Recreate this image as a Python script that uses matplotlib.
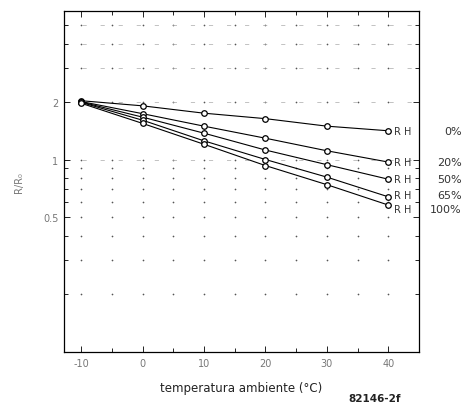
import numpy as np
import matplotlib
matplotlib.use('Agg')
import matplotlib.pyplot as plt
from matplotlib.ticker import FixedLocator, NullFormatter

# data
temp = [-10, 0, 10, 20, 30, 40]
rh_labels = ['0%', '20%', '50%', '65%', '100%']
rh_0 = [2.02, 1.90, 1.74, 1.63, 1.49, 1.41]
rh_20 = [2.00, 1.73, 1.49, 1.29, 1.11, 0.97]
rh_50 = [1.99, 1.66, 1.37, 1.12, 0.94, 0.79]
rh_65 = [1.98, 1.60, 1.25, 1.00, 0.81, 0.64]
rh_100 = [1.96, 1.54, 1.20, 0.93, 0.74, 0.58]
series = [rh_0, rh_20, rh_50, rh_65, rh_100]
label_offsets = [0, 0, 0, 1.5, -3]  # points, to keep labels apart

xticks = [-10, 0, 10, 20, 30, 40]
xtick_labels = ['-10', '0', '10', '20', '30', '40']
yticks = [0.5, 1, 2]
ytick_labels = ['0.5', '1', '2']
ygrid = [0.2, 0.3, 0.4, 0.5, 0.6, 0.7, 0.8, 0.9, 1, 2, 3, 4, 5]
xgrid = np.arange(-10, 45, 5)

fig = plt.figure(figsize=(4.63, 4.06), dpi=100)
ax = fig.add_axes([0.138, 0.1305, 0.767, 0.8397])
ax.set_yscale('log')
ax.set_xlim(-12.8, 45)
ax.set_ylim(0.1, 5.9)

# dotted paper grid: small dots at the crossings
gx, gy = np.meshgrid(xgrid, ygrid)
ax.scatter(gx.ravel(), gy.ravel(), s=1.5, color='#555555', lw=0, zorder=0)
for yv in [1, 2, 3, 4, 5]:
    ax.axhline(yv, color='#aaaaaa', lw=0.5, ls=(0, (6, 20)), zorder=0)

for vals, lab, off in zip(series, rh_labels, label_offsets):
    ax.plot(temp, vals, color='black', lw=0.8, marker='o', ms=4,
            mfc='white', mec='black', mew=0.9)
    ax.annotate('R H', xy=(temp[-1], vals[-1]), xytext=(4, off),
                textcoords='offset points', va='center', ha='left',
                fontsize=7, color='#333333')
    ax.annotate(lab, xy=(temp[-1], vals[-1]), xytext=(53, off),
                textcoords='offset points', va='center', ha='right',
                fontsize=8, color='#333333', annotation_clip=False)

ax.xaxis.set_major_locator(FixedLocator(xticks))
ax.xaxis.set_minor_locator(FixedLocator(list(xgrid)))
ax.set_xticklabels(xtick_labels)
ax.yaxis.set_major_locator(FixedLocator(yticks))
ax.yaxis.set_minor_locator(FixedLocator(ygrid))
ax.set_yticklabels(ytick_labels)
ax.yaxis.set_minor_formatter(NullFormatter())
ax.tick_params(which='both', direction='in', width=0.6, right=True, top=True)
ax.tick_params(which='major', length=4, labelsize=7, labelcolor='#777777', pad=4)
ax.tick_params(which='minor', length=3)

for sp in ax.spines.values():
    sp.set_linewidth(0.9)

ax.set_xlabel('temperatura ambiente (°C)', fontsize=8.5, color='#222222', labelpad=10)
ax.set_ylabel('R/R₀', fontsize=7, color='#777777', labelpad=14)
fig.text(0.752, 0.01, '82146-2f', fontsize=7.5, fontweight='bold', color='#222222')

fig.savefig('out.png', dpi=100)
